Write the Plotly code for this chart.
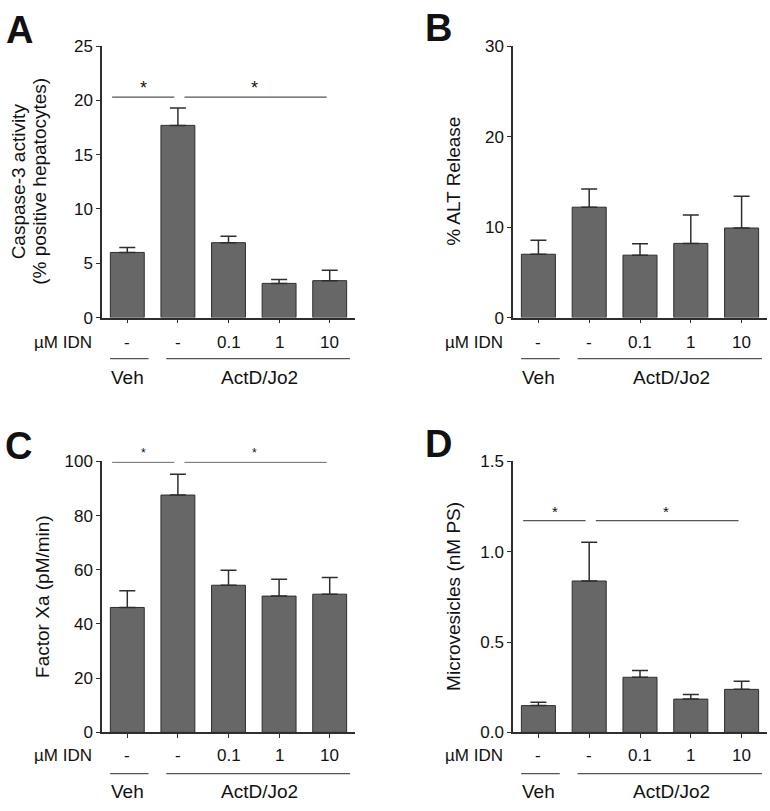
import plotly.graph_objects as go

# ---------------- data ----------------
categories = ["Veh", "ActD/Jo2", "ActD/Jo2 + 0.1 µM IDN", "ActD/Jo2 + 1 µM IDN", "ActD/Jo2 + 10 µM IDN"]
dose_labels = ["-", "-", "0.1", "1", "10"]
group_labels = ["Veh", "ActD/Jo2"]

caspase_mean = [6.0, 17.7, 6.9, 3.15, 3.4]
caspase_sem = [0.45, 1.6, 0.6, 0.35, 0.95]
alt_mean = [7.0, 12.2, 6.9, 8.2, 9.9]
alt_sem = [1.55, 2.0, 1.25, 3.15, 3.5]
fxa_mean = [46.1, 87.6, 54.3, 50.3, 51.0]
fxa_sem = [6.2, 7.7, 5.5, 6.2, 6.2]
mv_mean = [0.148, 0.838, 0.305, 0.184, 0.238]
mv_sem = [0.018, 0.214, 0.038, 0.025, 0.045]

A_ticks = [0, 5, 10, 15, 20, 25]
B_ticks = [0, 10, 20, 30]
C_ticks = [0, 20, 40, 60, 80, 100]
D_ticks = [0.0, 0.5, 1.0, 1.5]

# ---------------- styling / layout ----------------
W, H = 770, 811
FONT = "Liberation Sans, Arial, sans-serif"
BAR_FILL = "#676767"
DARK = "#2e2e2e"
LINE = "#555555"
TXT = "#111111"

xs = list(range(len(categories)))

def px_x(p):
    return p / W

def px_y(p):
    return 1 - p / H

panels = [
    dict(letter="A", ax="x", ay="y", m=caspase_mean, s=caspase_sem, ticks=A_ticks, rng=[0, 25],
         xd=(102, 355), yd=(38, 316),
         titles=[("Caspase-3 activity", 18.5), ("(% positive hepatocytes)", 40)],
         lpos=(19, 21), sig=20.3, star=18, fmt=None, below=(341, 358, 377)),
    dict(letter="B", ax="x2", ay="y2", m=alt_mean, s=alt_sem, ticks=B_ticks, rng=[0, 30],
         xd=(513, 767), yd=(38, 316), titles=[("% ALT Release", 454)],
         lpos=(438, 19), sig=None, star=18, fmt=None, below=(341, 358, 377)),
    dict(letter="C", ax="x3", ay="y3", m=fxa_mean, s=fxa_sem, ticks=C_ticks, rng=[0, 100],
         xd=(102, 355), yd=(463.3, 740.7), titles=[("Factor Xa (pM/min)", 43)],
         lpos=(18, 447), sig=99.7, star=12, fmt=None, below=(764, 783, 801)),
    dict(letter="D", ax="x4", ay="y4", m=mv_mean, s=mv_sem, ticks=D_ticks, rng=[0, 1.5],
         xd=(513, 767), yd=(463.3, 740.7), titles=[("Microvesicles (nM PS)", 454)],
         lpos=(438, 445), sig=1.172, star=15, fmt=".1f", below=(764, 783, 801)),
]

fig = go.Figure()
shapes = []
annotations = []
layout = {}

sig_spans = [(-0.3, 0.93), (1.13, 3.94)]
star_x = [0.32, 2.52]
veh_span = (-0.34, 0.42)
actd_span = (0.77, 4.4)
group_x = [0.0, 2.62]

for p in panels:
    fig.add_trace(go.Bar(
        x=xs, y=p["m"], xaxis=p["ax"], yaxis=p["ay"], width=0.67,
        marker=dict(color=BAR_FILL, line=dict(color=DARK, width=1)),
        error_y=dict(type="data", array=p["s"], arrayminus=[0] * len(p["s"]), symmetric=False,
                     color=DARK, thickness=1.5, width=8),
        showlegend=False, hoverinfo="skip",
    ))
    xkey = "xaxis" + p["ax"][1:]
    ykey = "yaxis" + p["ay"][1:]
    layout[xkey] = dict(domain=[px_x(p["xd"][0]), px_x(p["xd"][1])], range=[-0.5, 4.5],
                        anchor=p["ay"], showline=True, linecolor=DARK, linewidth=1.5,
                        ticks="outside", ticklen=4, tickwidth=1, tickcolor=DARK,
                        tickvals=xs, showticklabels=False, showgrid=False, zeroline=False, fixedrange=True)
    ykw = dict(domain=[px_y(p["yd"][1]), px_y(p["yd"][0])], range=p["rng"], anchor=p["ax"],
               showline=True, linecolor=DARK, linewidth=1.5, ticks="outside", ticklen=4,
               tickwidth=1, tickcolor=DARK, tickvals=p["ticks"], showgrid=False, zeroline=False,
               tickfont=dict(family=FONT, size=17, color=TXT), fixedrange=True)
    if p["fmt"]:
        ykw["tickformat"] = p["fmt"]
    layout[ykey] = ykw

    # y-axis title(s)
    for t, tx in p["titles"]:
        annotations.append(dict(text=t, xref="paper", yref="paper", x=px_x(tx),
                                y=px_y((p["yd"][0] + p["yd"][1]) / 2), textangle=-90, showarrow=False,
                                font=dict(family=FONT, size=19, color=TXT), xanchor="center", yanchor="middle"))
    # panel letter
    annotations.append(dict(text="<b>%s</b>" % p["letter"], xref="paper", yref="paper",
                            x=px_x(p["lpos"][0]), y=px_y(p["lpos"][1]), showarrow=False,
                            font=dict(family=FONT, size=38, color=TXT), xanchor="center", yanchor="middle"))
    # under-axis dose labels
    yl, yline, ygrp = p["below"]
    annotations.append(dict(text="µM IDN", xref="paper", yref="paper",
                            x=px_x(p["xd"][0] - 39), y=px_y(yl), showarrow=False,
                            font=dict(family=FONT, size=17, color=TXT), xanchor="center", yanchor="middle"))
    for xi, lab in zip(xs, dose_labels):
        annotations.append(dict(text=lab, xref=p["ax"], yref="paper", x=xi, y=px_y(yl), showarrow=False,
                                font=dict(family=FONT, size=17, color=TXT), xanchor="center", yanchor="middle"))
    for span in (veh_span, actd_span):
        shapes.append(dict(type="line", xref=p["ax"], yref="paper", x0=span[0], x1=span[1],
                           y0=px_y(yline), y1=px_y(yline), line=dict(color=LINE, width=1.2)))
    for gx, gl in zip(group_x, group_labels):
        annotations.append(dict(text=gl, xref=p["ax"], yref="paper", x=gx, y=px_y(ygrp), showarrow=False,
                                font=dict(family=FONT, size=19, color=TXT), xanchor="center", yanchor="middle"))
    # significance bars
    if p["sig"] is not None:
        for (a, b), sx in zip(sig_spans, star_x):
            shapes.append(dict(type="line", xref=p["ax"], yref=p["ay"], x0=a, x1=b, y0=p["sig"], y1=p["sig"],
                               line=dict(color=LINE, width=1.2)))
            annotations.append(dict(text="*", xref=p["ax"], yref=p["ay"], x=sx, y=p["sig"], showarrow=False,
                                    yshift=9, font=dict(family=FONT, size=p["star"], color=TXT),
                                    xanchor="center", yanchor="middle"))

fig.update_layout(
    width=W, height=H, margin=dict(l=0, r=0, t=0, b=0),
    paper_bgcolor="white", plot_bgcolor="white",
    font=dict(family=FONT, color=TXT),
    shapes=shapes, annotations=annotations, bargap=0.3,
    **layout,
)

fig.write_html("out.html", config={"displayModeBar": False},
               post_script="document.body.style.margin='0';document.body.style.overflow='hidden';")
